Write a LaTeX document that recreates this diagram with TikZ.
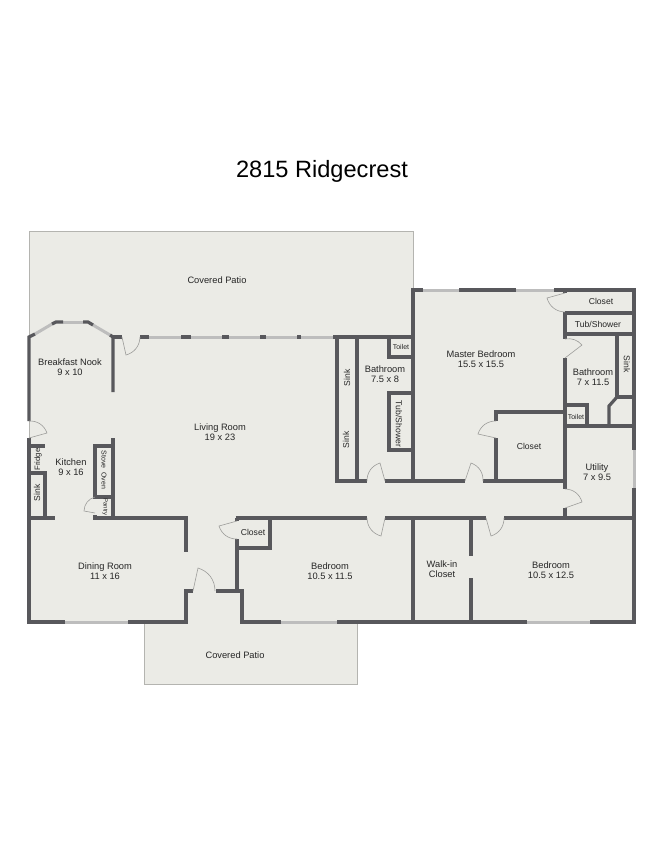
\documentclass[tikz,border=0pt]{standalone}
\usepackage{fontspec}
\setmainfont{Liberation Sans}
\definecolor{floorcol}{HTML}{EBEBE6}
\definecolor{wallcol}{HTML}{58585C}
\definecolor{windowcol}{HTML}{BDBDBD}
\definecolor{edgecol}{HTML}{B4B4B0}
\definecolor{doorcol}{HTML}{9C9C9A}
\tikzset{
	room/.style={align=center,font=\fontsize{9.3}{10.6}\selectfont,text=black!85},
	fixture/.style={align=center,font=\fontsize{8.6}{9}\selectfont,text=black!85},
	tiny fixture/.style={align=center,font=\fontsize{7}{8}\selectfont,text=black!85},
	wall/.style={draw=wallcol,line width=3.2pt,miter limit=4},
	glass/.style={draw=windowcol,line width=3pt},
	door/.style={draw=doorcol,line width=0.6pt},
	swing right/.style={bend right=#1},
	swing left/.style={bend left=#1}
}
\begin{document}
\begin{tikzpicture}[x=1pt,y=-1pt]
		\useasboundingbox (0,0) rectangle (650,841);
		\fill[white] (0,0) rectangle (650,841);
		% floor and the two patios
		\fill[floorcol,draw=edgecol,line width=0.6pt] (29,231) -- (413,231) -- (413,290) -- (634,290) -- (634,622) -- (357,622) -- (357,684) -- (144,684) -- (144,622) -- (29,622) -- cycle;

		\node (title) at (322,171) {\fontsize{23.6}{26}\selectfont 2815 Ridgecrest};

		% windows
		\draw[glass] (35,334) -- (52,324);
		\draw[glass] (63,322) -- (83,322);
		\draw[glass] (93,325) -- (110,335);
		\draw[glass] (149,337) -- (181,337);
		\draw[glass] (191,337) -- (222,337);
		\draw[glass] (229,337) -- (260,337);
		\draw[glass] (266,337) -- (297,337);
		\draw[glass] (301,337) -- (333,337);
		\draw[glass] (423,290) -- (459,290);
		\draw[glass] (516,290) -- (554,290);
		\draw[glass] (634,450) -- (634,488);
		\draw[glass] (65,622) -- (128,622);
		\draw[glass] (281,622) -- (337,622);
		\draw[glass] (527,622) -- (590,622);

		% outer walls
		\draw[wall] (29,421) -- (29,337) -- (35,334);
		\draw[wall] (52,324) -- (56,322) -- (63,322);
		\draw[wall] (83,322) -- (88,322) -- (93,325);
		\draw[wall] (110,335) -- (113,337) -- (113,392);
		\draw[wall] (113,337) -- (122,337);
		\draw[wall] (140,337) -- (149,337);
		\draw[wall] (181,337) -- (191,337);
		\draw[wall] (222,337) -- (229,337);
		\draw[wall] (260,337) -- (266,337);
		\draw[wall] (297,337) -- (301,337);
		\draw[wall] (333,337) -- (413,337);
		\draw[wall] (413,337) -- (413,290) -- (423,290);
		\draw[wall] (459,290) -- (516,290);
		\draw[wall] (554,290) -- (634,290) -- (634,450);
		\draw[wall] (634,488) -- (634,622) -- (590,622);
		\draw[wall] (527,622) -- (337,622);
		\draw[wall] (281,622) -- (242,622) -- (242,591) -- (216,591);
		\draw[wall] (193,591) -- (186,591) -- (186,622) -- (128,622);
		\draw[wall] (65,622) -- (29,622) -- (29,438);

		% kitchen
		\draw[wall] (29,446) -- (45,446);
		\draw[wall] (29,473) -- (45,473) -- (45,518);
		\draw[wall] (29,518) -- (55,518);
		\draw[wall] (113,438) -- (113,518);
		\draw[wall] (113,446) -- (95,446) -- (95,497) -- (113,497);
		\draw[wall] (95,515) -- (95,518) -- (186,518) -- (186,552);

		% middle bathroom
		\draw[wall] (337,337) -- (337,481) -- (367,481);
		\draw[wall] (357,337) -- (357,481);
		\draw[wall] (389,337) -- (389,357) -- (413,357);
		\draw[wall] (413,393) -- (389,393) -- (389,450) -- (413,450);
		\draw[wall] (385,481) -- (465,481);
		\draw[wall] (413,337) -- (413,481);
		\draw[wall] (483,481) -- (565,481);
		\draw[wall] (565,412) -- (496,412) -- (496,421);
		\draw[wall] (496,438) -- (496,481);

		% master bathroom
		\draw[wall] (565,290) -- (565,293);
		\draw[wall] (565,312) -- (565,339);
		\draw[wall] (565,358) -- (565,489);
		\draw[wall] (565,508) -- (565,518);
		\draw[wall] (565,313) -- (634,313);
		\draw[wall] (565,334) -- (634,334);
		\draw[wall] (617,334) -- (617,397) -- (634,397);
		\draw[wall] (617,397) -- (609,406) -- (609,426);
		\draw[wall] (565,405) -- (587,405) -- (587,426);
		\draw[wall] (565,426) -- (634,426);

		% bedrooms
		\draw[wall] (237,539) -- (237,591);
		\draw[wall] (237,518) -- (237,521);
		\draw[wall] (235.5,518) -- (367,518);
		\draw[wall] (385,518) -- (486,518);
		\draw[wall] (504,518) -- (634,518);
		\draw[wall] (270,518) -- (270,548) -- (237,548);
		\draw[wall] (413,518) -- (413,622);
		\draw[wall] (471,518) -- (471,556);
		\draw[wall] (471,578) -- (471,622);

		% doors
		\draw[door] (29,438) -- (47,433) to[swing right=36] (29,421);
		\draw[door] (122,337) -- (126,355) to[swing right=36] (140,337);
		\draw[door] (95,513) -- (84,511) to[swing left=36] (95,497);
		\draw[door] (193,591) -- (198,568) to[swing left=36] (215,591);
		\draw[door] (237,521) -- (219,526) to[swing right=36] (237,539);
		\draw[door] (565,293) -- (547,298) to[swing right=36] (565,312);
		\draw[door] (565,358) -- (582,345) to[swing right=28] (565,339);
		\draw[door] (496,438) -- (478,434) to[swing left=36] (496,421);
		\draw[door] (385,481) -- (380,463) to[swing right=36] (367,481);
		\draw[door] (465,481) -- (471,463) to[swing left=36] (483,481);
		\draw[door] (385,518) -- (381,536) to[swing left=36] (367,518);
		\draw[door] (486,518) -- (491,536) to[swing right=36] (504,518);
		\draw[door] (565,508) -- (582,502) to[swing right=36] (565,489);

		% rooms
		\node[room] (uppatio) at (217,280) {Covered Patio};
		\node[room] (lowpatio) at (235,655) {Covered Patio};
		\node[room] (nook) at (70,367) {Breakfast Nook\\9 x 10};
		\node[room] (kitchen) at (71,467) {Kitchen\\9 x 16};
		\node[room] (living) at (220,432) {Living Room\\19 x 23};
		\node[room] (dining) at (105,571) {Dining Room\\11 x 16};
		\node[room] (bath a) at (385,374) {Bathroom\\7.5 x 8};
		\node[room] (master) at (481,359) {Master Bedroom\\15.5 x 15.5};
		\node[room] (bath b) at (593,377) {Bathroom\\7 x 11.5};
		\node[room] (utility) at (597,472) {Utility\\7 x 9.5};
		\node[room] (bed a) at (330,571) {Bedroom\\10.5 x 11.5};
		\node[room] (bed b) at (551,570) {Bedroom\\10.5 x 12.5};
		\node[room] (walkin) at (442,569) {Walk-in\\Closet};

		% fixtures
		\node[fixture] (closet a) at (601,301) {Closet};
		\node[fixture] (tub a) at (598,324) {Tub/Shower};
		\node[fixture,rotate=-90] (sink a) at (627,364) {Sink};
		\node[tiny fixture] (toilet a) at (401,347) {Toilet};
		\node[tiny fixture] (toilet b) at (576,417) {Toilet};
		\node[fixture] (closet b) at (529,446) {Closet};
		\node[fixture] (closet c) at (253,532) {Closet};
		\node[fixture,rotate=90] (sink b) at (347,378) {Sink};
		\node[fixture,rotate=90] (sink c) at (346,440) {Sink};
		\node[fixture,rotate=-90] (tub b) at (399,424) {Tub/Shower};
		\node[tiny fixture,rotate=90,font=\fontsize{7.8}{8}\selectfont] (fridge) at (38,459.5) {Fridge};
		\node[fixture,rotate=90] (sink d) at (37,493) {Sink};
		\node[tiny fixture,rotate=-90] (stove) at (104,470) {Stove\ \ Oven};
		\node[tiny fixture,rotate=-90,font=\fontsize{6}{7}\selectfont] (pantry) at (105,507) {Pantry};
\end{tikzpicture}
\end{document}
